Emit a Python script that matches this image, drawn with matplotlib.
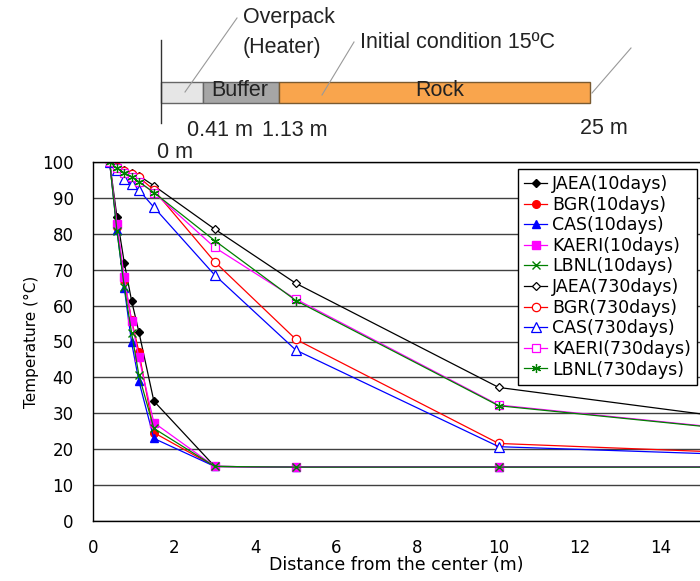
import matplotlib
matplotlib.use("Agg")
import matplotlib.pyplot as plt
from matplotlib.patches import Rectangle

# ---------------- data ----------------
distance = [0.41, 0.59, 0.77, 0.95, 1.13, 1.5, 3, 5, 10, 25]

jaea_10 = [100, 84.7, 72.0, 61.4, 52.7, 33.4, 15.2, 15, 15, 15]
bgr_10 = [100, 82.0, 67.0, 56.0, 47.2, 24.6, 15.2, 15, 15, 15]
cas_10 = [100, 81.0, 65.0, 49.8, 39.0, 23.0, 15.2, 15, 15, 15]
kaeri_10 = [100, 82.7, 68.0, 55.7, 45.6, 27.4, 15.2, 15, 15, 15]
lbnl_10 = [100, 80.8, 65.3, 52.5, 40.7, 25.8, 15.2, 15, 15, 15]

jaea_730 = [100, 98.8, 97.8, 97.0, 96.2, 93.4, 81.3, 66.2, 37.2, 15]
bgr_730 = [100, 98.6, 97.6, 96.6, 95.8, 92.2, 72.2, 50.6, 21.6, 15]
cas_730 = [100, 97.8, 95.4, 93.8, 92.2, 87.4, 68.5, 47.6, 20.7, 15]
kaeri_730 = [100, 98.3, 97.0, 95.8, 94.5, 91.5, 76.2, 61.8, 32.3, 15]
lbnl_730 = [100, 98.2, 97.0, 95.9, 94.5, 91.5, 78.1, 61.4, 32.1, 15]

labels_10 = ["JAEA(10days)", "BGR(10days)", "CAS(10days)", "KAERI(10days)", "LBNL(10days)"]
labels_730 = ["JAEA(730days)", "BGR(730days)", "CAS(730days)", "KAERI(730days)", "LBNL(730days)"]
y_ticks = [0, 10, 20, 30, 40, 50, 60, 70, 80, 90, 100]
x_ticks = [0, 2, 4, 6, 8, 10, 12, 14]

# schematic labels
zone_labels = ["Buffer", "Rock"]
boundary_labels = ["0 m", "0.41 m", "1.13 m", "25 m"]

# ---------------- style ----------------
plt.rcParams['font.family'] = ["DejaVu Sans"]

colors = ["#000000", "#ff0000", "#0000ff", "#ff00ff", "#008000"]
ast = (6, 2, 0)
markers_10 = ["D", "o", "^", "s", "x"]
markers_730 = ["D", "o", "^", "s", ast]
msize_10 = [4.5, 5.5, 6, 5.5, 6]
msize_730 = [4.5, 6, 6.5, 6, 6.5]

fig = plt.figure(figsize=(7.0, 5.81), dpi=100)
W, H = 700, 581
left, right, top, bottom = 93, 700, 162, 521
ax = fig.add_axes([left / W, (H - bottom) / H, (right - left) / W, (bottom - top) / H])

series_10 = [jaea_10, bgr_10, cas_10, kaeri_10, lbnl_10]
series_730 = [jaea_730, bgr_730, cas_730, kaeri_730, lbnl_730]

handles = []
for vals, lab, c, m, ms in zip(series_10, labels_10, colors, markers_10, msize_10):
    h, = ax.plot(distance, vals, color=c, lw=0.9, marker=m, ms=ms,
                 mfc=c, mec=c, mew=1.0, label=lab)
    handles.append(h)
for vals, lab, c, m, ms in zip(series_730, labels_730, colors, markers_730, msize_730):
    face = c if m == ast else "white"
    h, = ax.plot(distance, vals, color=c, lw=0.9, marker=m, ms=ms,
                 mfc=face, mec=c, mew=0.9, label=lab)
    handles.append(h)

ax.set_xlim(0, 14.96)
ax.set_ylim(0, 100)
ax.set_yticks(y_ticks)
ax.set_xticks(x_ticks)
ax.grid(axis="y", color="#404040", lw=1.0)
ax.set_axisbelow(True)
ax.tick_params(length=0, labelsize=12)
ax.tick_params(axis="y", pad=14)
ax.tick_params(axis="x", pad=13)
for s in ["left", "bottom", "top"]:
    ax.spines[s].set_color("black")
    ax.spines[s].set_linewidth(1.0)
ax.spines["right"].set_visible(False)

ax.set_xlabel("Distance from the center (m)", fontsize=12.5, labelpad=-1)
ax.set_ylabel("Temperature (°C)", fontsize=11, labelpad=2)

leg = ax.legend(handles=handles, loc="upper right", bbox_to_anchor=(0.995, 0.9805),
                fontsize=12.5, frameon=True, fancybox=False, edgecolor="black",
                framealpha=1, handlelength=1.3, handletextpad=0.3,
                labelspacing=0.15, borderpad=0.35, borderaxespad=0)
leg.get_frame().set_linewidth(1.0)

# ---------------- schematic (overlay in pixel coordinates) ----------------
ov = fig.add_axes([0, 0, 1, 1], zorder=5)
ov.set_xlim(0, W)
ov.set_ylim(H, 0)
ov.axis("off")
ov.patch.set_alpha(0)

sfont = ["Liberation Sans Narrow", "Liberation Sans", "DejaVu Sans"]
tc = "#222222"
bar_y0, bar_y1 = 82, 103
ov.plot([161, 161], [40, 123], color="#333333", lw=1.0)
ov.add_patch(Rectangle((161, bar_y0), 42, bar_y1 - bar_y0, facecolor="#e6e6e6", edgecolor="#666666", lw=1.0))
ov.add_patch(Rectangle((203, bar_y0), 76, bar_y1 - bar_y0, facecolor="#a6a6a6", edgecolor="#666666", lw=1.0))
ov.add_patch(Rectangle((279, bar_y0), 311, bar_y1 - bar_y0, facecolor="#f9a54d", edgecolor="#7a5a30", lw=1.0))

fs = 15.5
ov.text(240, 91, zone_labels[0], ha="center", va="center", fontsize=fs, family=sfont, color=tc)
ov.text(440, 91, zone_labels[1], ha="center", va="center", fontsize=fs, family=sfont, color=tc)
ov.text(243, 18, "Overpack", ha="left", va="center", fontsize=fs, family=sfont, color=tc)
ov.text(243, 48, "(Heater)", ha="left", va="center", fontsize=fs, family=sfont, color=tc)
ov.text(360, 42, "Initial condition 15ºC", ha="left", va="center", fontsize=fs, family=sfont, color=tc)
ov.text(187, 130, boundary_labels[1], ha="left", va="center", fontsize=fs, family=sfont, color=tc)
ov.text(262, 130, boundary_labels[2], ha="left", va="center", fontsize=fs, family=sfont, color=tc)
ov.text(580, 129, boundary_labels[3], ha="left", va="center", fontsize=fs, family=sfont, color=tc)
ov.text(157, 152, boundary_labels[0], ha="left", va="center", fontsize=fs, family=sfont, color=tc)

for (x0, y0, x1, y1) in [(185, 92, 237, 18), (322, 95, 354, 42), (592, 93, 631, 48)]:
    ov.plot([x0, x1], [y0, y1], color="#999999", lw=0.8)

fig.savefig("out.png", dpi=100)
